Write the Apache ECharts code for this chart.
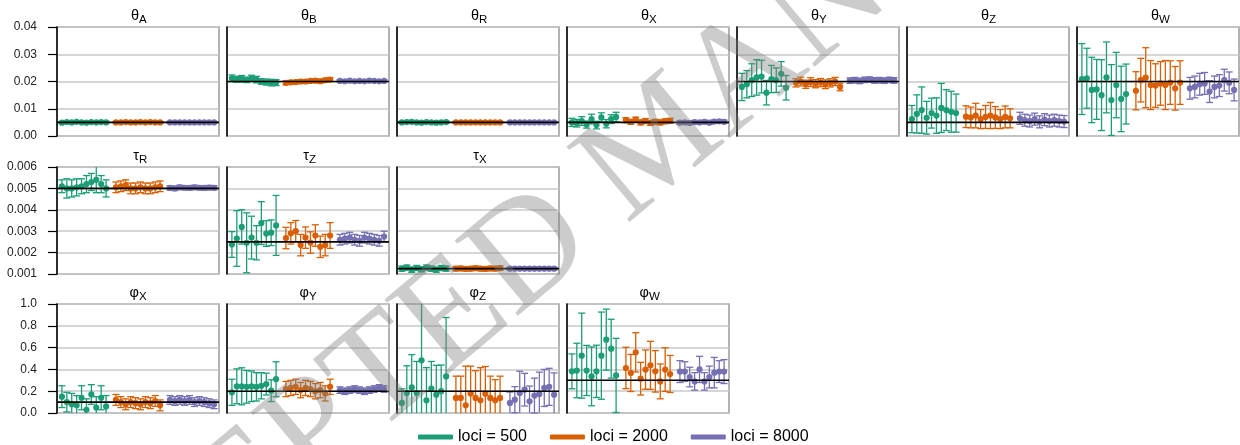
<!DOCTYPE html>
<html><head><meta charset="utf-8">
<script src="https://cdn.jsdelivr.net/npm/echarts@6/dist/echarts.min.js"></script>
<style>html,body{margin:0;padding:0;background:#fff}#c{width:1240px;height:445px}</style>
</head><body><div id="c"></div>
<script>
// ---------- series / groups ----------
const seriesNames = ['loci = 500', 'loci = 2000', 'loci = 8000'];
const seriesColors = ['#1b9e77', '#d95f02', '#7570b3'];

// ---------- y-axis ticks per row ----------
const rowMin = [0, 0.001, 0];
const rowMax = [0.04, 0.006, 1.0];
const rowInterval = [0.01, 0.001, 0.2];
const rowDecimals = [2, 3, 1];

// ---------- panel titles & true values ----------
const panelSymbol = ['θ','θ','θ','θ','θ','θ','θ','τ','τ','τ','φ','φ','φ','φ'];
const panelSub    = ['A','B','R','X','Y','Z','W','R','Z','X','X','Y','Z','W'];
const panelRow    = [0,0,0,0,0,0,0,1,1,1,2,2,2,2];
const panelTruth  = [0.005,0.02,0.005,0.005,0.02,0.005,0.02,0.005,0.0025,0.00125,0.1,0.2,0.2,0.3];

// ---------- estimates (means) and error half-widths ----------
// theta_A
const thA_500 = [0.0049,0.0051,0.0050,0.0052,0.0050,0.0049,0.0051,0.0050,0.0051,0.0050];
const thA_500_e = [0.0004,0.0004,0.0005,0.0004,0.0004,0.0004,0.0004,0.0004,0.0004,0.0004];
const thA_2000 = [0.0050,0.0050,0.0051,0.0050,0.0050,0.0051,0.0050,0.0051,0.0050,0.0050];
const thA_2000_e = [0.0003,0.0003,0.0003,0.0003,0.0003,0.0003,0.0003,0.0003,0.0003,0.0003];
const thA_8000 = [0.0050,0.0050,0.0050,0.0050,0.0050,0.0050,0.0050,0.0050,0.0050,0.0050];
const thA_8000_e = [0.0002,0.0002,0.0002,0.0002,0.0002,0.0002,0.0002,0.0002,0.0002,0.0002];
// theta_B
const thB_500 = [0.0212,0.0208,0.0210,0.0206,0.0212,0.0207,0.0200,0.0198,0.0196,0.0196];
const thB_500_e = [0.0012,0.0011,0.0012,0.0010,0.0011,0.0012,0.0010,0.0011,0.0012,0.0011];
const thB_2000 = [0.0195,0.0197,0.0198,0.0200,0.0200,0.0202,0.0203,0.0201,0.0205,0.0207];
const thB_2000_e = [0.0007,0.0007,0.0006,0.0007,0.0007,0.0006,0.0007,0.0007,0.0006,0.0007];
const thB_8000 = [0.0202,0.0201,0.0203,0.0201,0.0202,0.0201,0.0203,0.0202,0.0201,0.0202];
const thB_8000_e = [0.0004,0.0004,0.0004,0.0004,0.0004,0.0004,0.0004,0.0004,0.0004,0.0004];
// theta_R
const thR_500 = [0.0050,0.0051,0.0052,0.0050,0.0049,0.0051,0.0050,0.0049,0.0050,0.0051];
const thR_500_e = [0.0004,0.0004,0.0004,0.0004,0.0004,0.0004,0.0004,0.0004,0.0004,0.0004];
const thR_2000 = [0.0050,0.0050,0.0050,0.0050,0.0050,0.0050,0.0050,0.0050,0.0050,0.0050];
const thR_2000_e = [0.0003,0.0003,0.0003,0.0003,0.0003,0.0003,0.0003,0.0003,0.0003,0.0003];
const thR_8000 = [0.0050,0.0050,0.0050,0.0050,0.0050,0.0050,0.0050,0.0050,0.0050,0.0050];
const thR_8000_e = [0.0002,0.0002,0.0002,0.0002,0.0002,0.0002,0.0002,0.0002,0.0002,0.0002];
// theta_X
const thX_500 = [0.0050,0.0047,0.0055,0.0042,0.0062,0.0040,0.0068,0.0045,0.0062,0.0070];
const thX_500_e = [0.0015,0.0014,0.0016,0.0013,0.0018,0.0014,0.0017,0.0015,0.0016,0.0017];
const thX_2000 = [0.0058,0.0052,0.0060,0.0050,0.0055,0.0048,0.0052,0.0050,0.0054,0.0056];
const thX_2000_e = [0.0009,0.0009,0.0009,0.0009,0.0009,0.0009,0.0009,0.0009,0.0009,0.0009];
const thX_8000 = [0.0049,0.0050,0.0048,0.0051,0.0050,0.0052,0.0049,0.0053,0.0054,0.0052];
const thX_8000_e = [0.0006,0.0006,0.0006,0.0006,0.0006,0.0006,0.0006,0.0006,0.0006,0.0006];
// theta_Y
const thY_500 = [0.0180,0.0190,0.0205,0.0215,0.0218,0.0159,0.0209,0.0205,0.0228,0.0177];
const thY_500_e = [0.0050,0.0050,0.0060,0.0065,0.0060,0.0045,0.0050,0.0045,0.0045,0.0045];
const thY_2000 = [0.0195,0.0200,0.0190,0.0198,0.0192,0.0196,0.0190,0.0195,0.0200,0.0180];
const thY_2000_e = [0.0015,0.0016,0.0015,0.0016,0.0015,0.0015,0.0016,0.0015,0.0015,0.0014];
const thY_8000 = [0.0203,0.0205,0.0202,0.0206,0.0207,0.0204,0.0205,0.0203,0.0206,0.0204];
const thY_8000_e = [0.0010,0.0010,0.0010,0.0010,0.0010,0.0010,0.0010,0.0010,0.0010,0.0010];
// theta_Z
const thZ_500 = [0.0062,0.0081,0.0095,0.0067,0.0084,0.0075,0.0103,0.0095,0.0089,0.0084];
const thZ_500_e = [0.0050,0.0070,0.0085,0.0060,0.0055,0.0065,0.0090,0.0075,0.0075,0.0070];
const thZ_2000 = [0.0071,0.0068,0.0075,0.0062,0.0070,0.0075,0.0068,0.0062,0.0070,0.0065];
const thZ_2000_e = [0.0040,0.0038,0.0045,0.0035,0.0042,0.0048,0.0040,0.0035,0.0040,0.0035];
const thZ_8000 = [0.0065,0.0058,0.0055,0.0062,0.0052,0.0060,0.0055,0.0058,0.0055,0.0053];
const thZ_8000_e = [0.0022,0.0022,0.0022,0.0022,0.0022,0.0022,0.0022,0.0022,0.0022,0.0022];
// theta_W
const thW_500 = [0.0209,0.0212,0.0169,0.0171,0.0150,0.0215,0.0132,0.0187,0.0136,0.0154];
const thW_500_e = [0.0130,0.0110,0.0120,0.0110,0.0130,0.0130,0.0130,0.0120,0.0120,0.0110];
const thW_2000 = [0.0166,0.0205,0.0214,0.0187,0.0185,0.0193,0.0187,0.0196,0.0175,0.0196];
const thW_2000_e = [0.0070,0.0080,0.0110,0.0090,0.0080,0.0080,0.0090,0.0080,0.0080,0.0080];
const thW_8000 = [0.0175,0.0180,0.0190,0.0193,0.0163,0.0180,0.0185,0.0205,0.0195,0.0169];
const thW_8000_e = [0.0040,0.0040,0.0040,0.0040,0.0040,0.0040,0.0040,0.0040,0.0040,0.0040];
// tau_R
const tR_500 = [0.00510,0.00500,0.00500,0.00505,0.00510,0.00520,0.00530,0.00540,0.00520,0.00500];
const tR_500_e = [0.00030,0.00045,0.00040,0.00040,0.00035,0.00040,0.00040,0.00060,0.00040,0.00040];
const tR_2000 = [0.00505,0.00510,0.00515,0.00500,0.00500,0.00505,0.00500,0.00500,0.00505,0.00510];
const tR_2000_e = [0.00025,0.00025,0.00025,0.00025,0.00025,0.00025,0.00025,0.00025,0.00025,0.00025];
const tR_8000 = [0.00502,0.00500,0.00505,0.00503,0.00502,0.00505,0.00503,0.00502,0.00504,0.00503];
const tR_8000_e = [0.00010,0.00010,0.00010,0.00010,0.00010,0.00010,0.00010,0.00010,0.00010,0.00010];
// tau_Z
const tZ_500 = [0.00238,0.00266,0.00320,0.00246,0.00270,0.00246,0.00338,0.00289,0.00293,0.00327];
const tZ_500_e = [0.00060,0.00130,0.00080,0.00140,0.00100,0.00080,0.00100,0.00060,0.00060,0.00140];
const tZ_2000 = [0.00268,0.00290,0.00300,0.00235,0.00270,0.00247,0.00280,0.00227,0.00235,0.00280];
const tZ_2000_e = [0.00050,0.00050,0.00050,0.00050,0.00050,0.00050,0.00050,0.00050,0.00050,0.00060];
const tZ_8000 = [0.00260,0.00265,0.00270,0.00260,0.00255,0.00270,0.00265,0.00260,0.00255,0.00275];
const tZ_8000_e = [0.00025,0.00025,0.00025,0.00025,0.00025,0.00025,0.00025,0.00025,0.00025,0.00025];
// tau_X
const tX_500 = [0.00125,0.00130,0.00120,0.00128,0.00122,0.00130,0.00125,0.00120,0.00128,0.00125];
const tX_500_e = [0.00012,0.00012,0.00012,0.00012,0.00012,0.00012,0.00012,0.00012,0.00012,0.00012];
const tX_2000 = [0.00125,0.00126,0.00124,0.00125,0.00127,0.00125,0.00124,0.00126,0.00125,0.00127];
const tX_2000_e = [0.00010,0.00010,0.00010,0.00010,0.00010,0.00010,0.00010,0.00010,0.00010,0.00010];
const tX_8000 = [0.00125,0.00125,0.00125,0.00125,0.00125,0.00125,0.00125,0.00125,0.00125,0.00125];
const tX_8000_e = [0.00006,0.00006,0.00006,0.00006,0.00006,0.00006,0.00006,0.00006,0.00006,0.00006];
// phi_X
const pX_500 = [0.15,0.10,0.08,0.07,0.14,0.03,0.17,0.05,0.14,0.06];
const pX_500_e = [0.10,0.09,0.10,0.09,0.11,0.10,0.09,0.10,0.11,0.10];
const pX_2000 = [0.12,0.10,0.08,0.10,0.09,0.08,0.10,0.09,0.11,0.07];
const pX_2000_e = [0.05,0.05,0.05,0.05,0.05,0.05,0.05,0.05,0.05,0.05];
const pX_8000 = [0.12,0.11,0.12,0.11,0.12,0.10,0.11,0.10,0.09,0.08];
const pX_8000_e = [0.04,0.04,0.04,0.04,0.04,0.04,0.04,0.04,0.04,0.04];
// phi_Y
const pY_500 = [0.19,0.245,0.245,0.24,0.245,0.24,0.25,0.265,0.205,0.31];
const pY_500_e = [0.12,0.16,0.17,0.15,0.14,0.13,0.12,0.10,0.10,0.16];
const pY_2000 = [0.22,0.23,0.24,0.21,0.23,0.22,0.20,0.21,0.18,0.24];
const pY_2000_e = [0.07,0.07,0.07,0.07,0.07,0.07,0.07,0.07,0.07,0.07];
const pY_8000 = [0.21,0.20,0.21,0.22,0.21,0.20,0.21,0.22,0.23,0.22];
const pY_8000_e = [0.03,0.03,0.03,0.03,0.03,0.03,0.03,0.03,0.03,0.03];
// phi_Z
const pZ_500 = [0.092,0.183,0.235,0.183,0.483,0.116,0.223,0.168,0.20,0.336];
const pZ_500_e = [0.13,0.25,0.30,0.29,0.52,0.30,0.25,0.27,0.24,0.54];
const pZ_2000 = [0.138,0.138,0.07,0.18,0.138,0.116,0.177,0.138,0.116,0.138];
const pZ_2000_e = [0.20,0.20,0.36,0.25,0.25,0.30,0.25,0.20,0.19,0.20];
const pZ_8000 = [0.092,0.122,0.183,0.214,0.107,0.16,0.175,0.23,0.24,0.168];
const pZ_8000_e = [0.10,0.12,0.20,0.15,0.14,0.16,0.20,0.17,0.17,0.20];
// phi_W
const pW_500 = [0.382,0.39,0.526,0.39,0.336,0.382,0.526,0.673,0.59,0.345];
const pW_500_e = [0.16,0.25,0.39,0.23,0.27,0.24,0.40,0.28,0.27,0.34];
const pW_2000 = [0.413,0.367,0.557,0.315,0.398,0.437,0.382,0.29,0.398,0.358];
const pW_2000_e = [0.19,0.17,0.18,0.15,0.18,0.22,0.19,0.16,0.20,0.17];
const pW_8000 = [0.38,0.38,0.33,0.29,0.40,0.29,0.33,0.37,0.38,0.38];
const pW_8000_e = [0.10,0.09,0.09,0.08,0.12,0.08,0.10,0.14,0.10,0.11];

const panelMeans = [
  [thA_500, thA_2000, thA_8000], [thB_500, thB_2000, thB_8000], [thR_500, thR_2000, thR_8000],
  [thX_500, thX_2000, thX_8000], [thY_500, thY_2000, thY_8000], [thZ_500, thZ_2000, thZ_8000],
  [thW_500, thW_2000, thW_8000], [tR_500, tR_2000, tR_8000], [tZ_500, tZ_2000, tZ_8000],
  [tX_500, tX_2000, tX_8000], [pX_500, pX_2000, pX_8000], [pY_500, pY_2000, pY_8000],
  [pZ_500, pZ_2000, pZ_8000], [pW_500, pW_2000, pW_8000]
];
const panelErrs = [
  [thA_500_e, thA_2000_e, thA_8000_e], [thB_500_e, thB_2000_e, thB_8000_e], [thR_500_e, thR_2000_e, thR_8000_e],
  [thX_500_e, thX_2000_e, thX_8000_e], [thY_500_e, thY_2000_e, thY_8000_e], [thZ_500_e, thZ_2000_e, thZ_8000_e],
  [thW_500_e, thW_2000_e, thW_8000_e], [tR_500_e, tR_2000_e, tR_8000_e], [tZ_500_e, tZ_2000_e, tZ_8000_e],
  [tX_500_e, tX_2000_e, tX_8000_e], [pX_500_e, pX_2000_e, pX_8000_e], [pY_500_e, pY_2000_e, pY_8000_e],
  [pZ_500_e, pZ_2000_e, pZ_8000_e], [pW_500_e, pW_2000_e, pW_8000_e]
];

// ---------- layout ----------
const FONT = '"Liberation Sans", Arial, sans-serif';
const colLeft0 = 57, colStep = 170, panelW = 162;
const rowTop = [27, 167, 304];
const rowH = [109, 107, 109];
const groupOffset = [0, 11, 22];

function renderItem(params, api) {
  const x = api.value(0), m = api.value(1), e = api.value(2);
  const cs = params.coordSys;
  const yTop = cs.y, yBot = cs.y + cs.height;
  const c = api.coord([x, m]);
  const t = api.coord([x, m + e])[1];
  const b = api.coord([x, m - e])[1];
  const color = api.visual('color');
  const hw = 3.5, lw = 1.3;
  const kids = [];
  const tc = Math.max(t, yTop), bc = Math.min(b, yBot);
  kids.push({type: 'line', shape: {x1: c[0], y1: tc, x2: c[0], y2: bc}, style: {stroke: color, lineWidth: lw}});
  if (t >= yTop) kids.push({type: 'line', shape: {x1: c[0] - hw, y1: t, x2: c[0] + hw, y2: t}, style: {stroke: color, lineWidth: lw}});
  if (b <= yBot) kids.push({type: 'line', shape: {x1: c[0] - hw, y1: b, x2: c[0] + hw, y2: b}, style: {stroke: color, lineWidth: lw}});
  kids.push({type: 'circle', shape: {cx: c[0], cy: c[1], r: 3.1}, style: {fill: color}});
  return {type: 'group', children: kids};
}

const grids = [], xAxes = [], yAxes = [], series = [], graphics = [];
const colIndexInRow = [0, 0, 0];
panelSymbol.forEach((sym, p) => {
  const r = panelRow[p];
  const col = colIndexInRow[r]++;
  const left = colLeft0 + col * colStep;
  const top = rowTop[r];
  grids.push({left: left, top: top, width: panelW, height: rowH[r], show: true,
    borderColor: '#9a9a9a', borderWidth: 1.5, backgroundColor: 'transparent'});
  xAxes.push({gridIndex: p, type: 'value', min: -1, max: 32, show: false});
  const first = col === 0;
  yAxes.push({gridIndex: p, type: 'value', min: rowMin[r], max: rowMax[r], interval: rowInterval[r],
    axisLine: {show: true, onZero: false, lineStyle: {color: '#000', width: 1.5}},
    axisTick: {show: first, length: 9, lineStyle: {color: '#000', width: 1.2}},
    axisLabel: {show: first, margin: 20, fontSize: 12, color: '#222', fontFamily: FONT,
      formatter: v => v.toFixed(rowDecimals[r])},
    splitLine: {show: true, lineStyle: {color: '#c8c8c8', width: 1.5}}
  });
  // true-value line
  series.push({type: 'line', name: 'truth' + p, xAxisIndex: p, yAxisIndex: p, silent: true,
    data: [[-1, panelTruth[p]], [32, panelTruth[p]]], showSymbol: false, symbol: 'none',
    lineStyle: {color: '#000', width: 1.6}, z: 5});
  for (let g = 0; g < 3; g++) {
    const means = panelMeans[p][g], errs = panelErrs[p][g];
    series.push({type: 'custom', name: seriesNames[g], xAxisIndex: p, yAxisIndex: p,
      itemStyle: {color: seriesColors[g]}, renderItem: renderItem, z: 3,
      encode: {x: 0, y: 1},
      data: means.map((m, i) => [groupOffset[g] + i, m, errs[i]])});
  }
  // title: symbol + subscript
  const cx = left + panelW / 2 + 1;
  graphics.push({type: 'text', x: cx, y: top - 11, silent: true,
    style: {text: sym, font: '14.5px ' + FONT, fill: '#000', textAlign: 'right', textVerticalAlign: 'middle', align: 'right', verticalAlign: 'middle'}});
  graphics.push({type: 'text', x: cx, y: top - 7.5, silent: true,
    style: {text: panelSub[p], font: '11.5px ' + FONT, fill: '#000', textAlign: 'left', textVerticalAlign: 'middle', align: 'left', verticalAlign: 'middle'}});
});

// watermark
graphics.push({type: 'text', x: 660, y: 145, rotation: 40 * Math.PI / 180, silent: true, z: 100,
  style: {text: 'ACCEPTED MANUSCRIPT', font: '150px "Liberation Serif", serif', fill: 'rgba(128,128,128,0.40)',
    textAlign: 'center', textVerticalAlign: 'middle', align: 'center', verticalAlign: 'middle'}});

const chart = echarts.init(document.getElementById('c'), null, {renderer: 'canvas'});
chart.setOption({
  animation: false,
  backgroundColor: '#fff',
  textStyle: {fontFamily: FONT},
  grid: grids, xAxis: xAxes, yAxis: yAxes, series: series,
  legend: {data: seriesNames, left: 413, top: 424, itemWidth: 35, itemHeight: 5, itemGap: 23,
    icon: 'roundRect', selectedMode: false,
    textStyle: {fontSize: 16, color: '#000', fontFamily: FONT}},
  graphic: graphics
});
</script></body></html>
